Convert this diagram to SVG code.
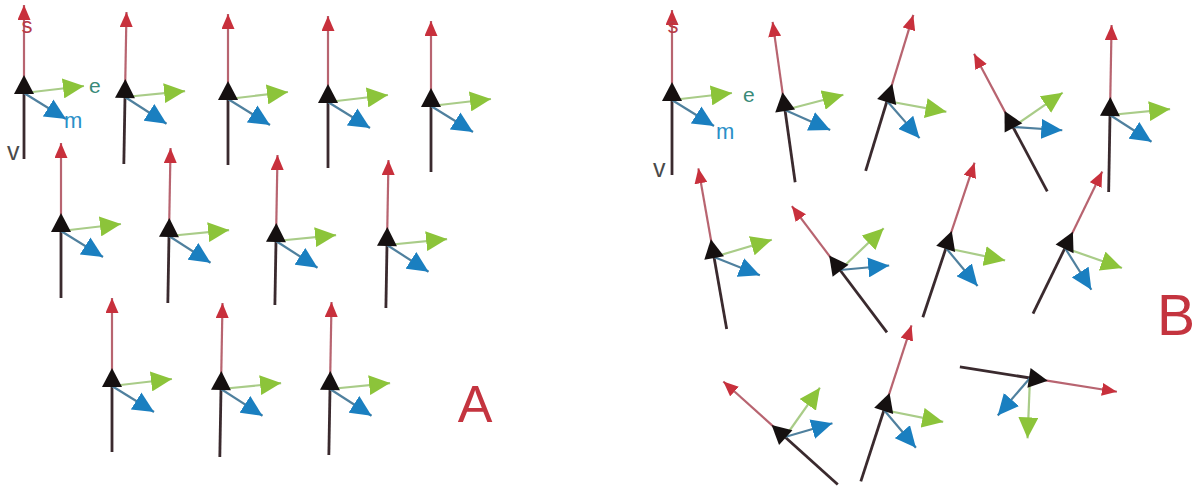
<svg xmlns="http://www.w3.org/2000/svg" xmlns:xlink="http://www.w3.org/1999/xlink" width="1197" height="488" viewBox="0 0 1197 488">
<style>
.v{stroke:#3a2a2e;stroke-width:2.8;fill:none}
.s{stroke:#b86470;stroke-width:2.2;fill:none;marker-end:url(#hr)}
.e{stroke:#a9cc88;stroke-width:2.2;fill:none;marker-end:url(#hg)}
.m{stroke:#4f809e;stroke-width:2.2;fill:none;marker-end:url(#hb)}
.tri{fill:#151010}
.lbl{font-family:"Liberation Sans",Arial,sans-serif}
.big{font-family:"Liberation Sans",Arial,sans-serif;fill:#c4343f}
</style>
<defs>
<marker id="hr" viewBox="0 0 15 13" refX="15" refY="6.5" markerWidth="15" markerHeight="13" markerUnits="userSpaceOnUse" orient="auto"><path d="M0,0 L15,6.5 L0,13 z" fill="#c8303c"/></marker>
<marker id="hg" viewBox="0 0 21 20" refX="21" refY="10" markerWidth="21" markerHeight="20" markerUnits="userSpaceOnUse" orient="auto"><path d="M0,0 L21,10 L0,20 z" fill="#8cc43a"/></marker>
<marker id="hb" viewBox="0 0 21 20" refX="21" refY="10" markerWidth="21" markerHeight="20" markerUnits="userSpaceOnUse" orient="auto"><path d="M0,0 L21,10 L0,20 z" fill="#1a7fc0"/></marker>
<g id="gb">
<line class="e" x1="0" y1="0" x2="60" y2="-7"/>
<line class="m" x1="0" y1="0" x2="42" y2="26"/>
<polygon class="tri" points="0,-18 -10,1 10,1"/>
</g>
</defs>
<rect width="1197" height="488" fill="#ffffff"/>

<g id="panelA">
<g id="a1" transform="translate(24,93)"><line class="v" x1="0" y1="0" x2="0" y2="66"/><line class="s" x1="0" y1="-14" x2="0" y2="-88"/><use href="#gb" xlink:href="#gb"/></g>
<g id="a2" transform="translate(125,97) rotate(1)"><line class="v" x1="0" y1="0" x2="0" y2="67"/><line class="s" x1="0" y1="-14" x2="0" y2="-85"/><use href="#gb" xlink:href="#gb"/></g>
<g id="a3" transform="translate(228,99)"><line class="v" x1="0" y1="0" x2="0" y2="66"/><line class="s" x1="0" y1="-14" x2="0" y2="-85"/><use href="#gb" xlink:href="#gb"/></g>
<g id="a4" transform="translate(328,102)"><line class="v" x1="0" y1="0" x2="0" y2="66"/><line class="s" x1="0" y1="-14" x2="0" y2="-86"/><use href="#gb" xlink:href="#gb"/></g>
<g id="a5" transform="translate(431,106)"><line class="v" x1="0" y1="0" x2="0" y2="66"/><line class="s" x1="0" y1="-14" x2="0" y2="-85"/><use href="#gb" xlink:href="#gb"/></g>
<g id="a6" transform="translate(61,231)"><line class="v" x1="0" y1="0" x2="0" y2="67"/><line class="s" x1="0" y1="-14" x2="0" y2="-88"/><use href="#gb" xlink:href="#gb"/></g>
<g id="a7" transform="translate(169,236) rotate(1)"><line class="v" x1="0" y1="0" x2="0" y2="67"/><line class="s" x1="0" y1="-14" x2="0" y2="-88"/><use href="#gb" xlink:href="#gb"/></g>
<g id="a8" transform="translate(276,241) rotate(1)"><line class="v" x1="0" y1="0" x2="0" y2="64"/><line class="s" x1="0" y1="-14" x2="0" y2="-86"/><use href="#gb" xlink:href="#gb"/></g>
<g id="a9" transform="translate(387,245) rotate(1)"><line class="v" x1="0" y1="0" x2="0" y2="63"/><line class="s" x1="0" y1="-14" x2="0" y2="-85"/><use href="#gb" xlink:href="#gb"/></g>
<g id="a10" transform="translate(112,386)"><line class="v" x1="0" y1="0" x2="0" y2="66"/><line class="s" x1="0" y1="-14" x2="0" y2="-88"/><use href="#gb" xlink:href="#gb"/></g>
<g id="a11" transform="translate(221,389) rotate(1)"><line class="v" x1="0" y1="0" x2="0" y2="68"/><line class="s" x1="0" y1="-14" x2="0" y2="-86"/><use href="#gb" xlink:href="#gb"/></g>
<g id="a12" transform="translate(330,389) rotate(1)"><line class="v" x1="0" y1="0" x2="0" y2="66"/><line class="s" x1="0" y1="-14" x2="0" y2="-87"/><use href="#gb" xlink:href="#gb"/></g>
<g id="labelsA" class="lbl">
<text x="27" y="33" font-size="22" fill="#b83a48" text-anchor="middle">s</text>
<text x="89" y="93" font-size="21" fill="#3a8a78">e</text>
<text x="64" y="128" font-size="22" fill="#2a90c8">m</text>
<text x="7" y="160" font-size="25" fill="#4a4a4a">v</text>
</g>
<text id="labelA" class="big" x="475" y="422" font-size="52" text-anchor="middle">A</text>
</g>

<g id="panelB">
<g id="b1" transform="translate(672,100)"><line class="v" x1="0" y1="0" x2="0" y2="75"/><line class="s" x1="0" y1="-14" x2="0" y2="-90"/><use href="#gb" xlink:href="#gb"/></g>
<g id="b2" transform="translate(785,110) rotate(-8)"><line class="v" x1="0" y1="0" x2="0" y2="73"/><line class="s" x1="0" y1="-14" x2="0" y2="-89"/><use href="#gb" xlink:href="#gb"/></g>
<g id="b3" transform="translate(887,101) rotate(17)"><line class="v" x1="0" y1="0" x2="0" y2="73"/><line class="s" x1="0" y1="-14" x2="0" y2="-90"/><use href="#gb" xlink:href="#gb"/></g>
<g id="b4" transform="translate(1013,127) rotate(-28)"><line class="v" x1="0" y1="0" x2="0" y2="73"/><line class="s" x1="0" y1="-14" x2="0" y2="-83"/><use href="#gb" xlink:href="#gb"/></g>
<g id="b5" transform="translate(1110,115) rotate(1)"><line class="v" x1="0" y1="0" x2="0" y2="77"/><line class="s" x1="0" y1="-14" x2="0" y2="-90"/><use href="#gb" xlink:href="#gb"/></g>
<g id="b6" transform="translate(714,257) rotate(-10)"><line class="v" x1="0" y1="0" x2="0" y2="73"/><line class="s" x1="0" y1="-14" x2="0" y2="-90"/><use href="#gb" xlink:href="#gb"/></g>
<g id="b7" transform="translate(840,270) rotate(-37)"><line class="v" x1="0" y1="0" x2="0" y2="78"/><line class="s" x1="0" y1="-14" x2="0" y2="-80"/><use href="#gb" xlink:href="#gb"/></g>
<g id="b8" transform="translate(946,248) rotate(18.5)"><line class="v" x1="0" y1="0" x2="0" y2="73"/><line class="s" x1="0" y1="-14" x2="0" y2="-90"/><use href="#gb" xlink:href="#gb"/></g>
<g id="b9" transform="translate(1065,248) rotate(26)"><line class="v" x1="0" y1="0" x2="0" y2="73"/><line class="s" x1="0" y1="-14" x2="0" y2="-85"/><use href="#gb" xlink:href="#gb"/></g>
<g id="b10" transform="translate(785,437) rotate(-48)"><line class="v" x1="0" y1="0" x2="0" y2="71"/><line class="s" x1="0" y1="-14" x2="0" y2="-83"/><use href="#gb" xlink:href="#gb"/></g>
<g id="b11" transform="translate(884,410) rotate(18)"><line class="v" x1="0" y1="0" x2="0" y2="75"/><line class="s" x1="0" y1="-14" x2="0" y2="-89"/><use href="#gb" xlink:href="#gb"/></g>
<g id="b12" transform="translate(1030,378) rotate(99)"><line class="v" x1="0" y1="0" x2="0" y2="71"/><line class="s" x1="0" y1="-14" x2="0" y2="-88"/><use href="#gb" xlink:href="#gb"/></g>
<g id="labelsB" class="lbl">
<text x="673" y="33" font-size="22" fill="#b83a48" text-anchor="middle">s</text>
<text x="743" y="102" font-size="21" fill="#3a8a78">e</text>
<text x="716" y="139" font-size="22" fill="#2a90c8">m</text>
<text x="653" y="177" font-size="25" fill="#4a4a4a">v</text>
</g>
<text id="labelB" class="big" x="1157" y="335" font-size="57">B</text>
</g>
</svg>
